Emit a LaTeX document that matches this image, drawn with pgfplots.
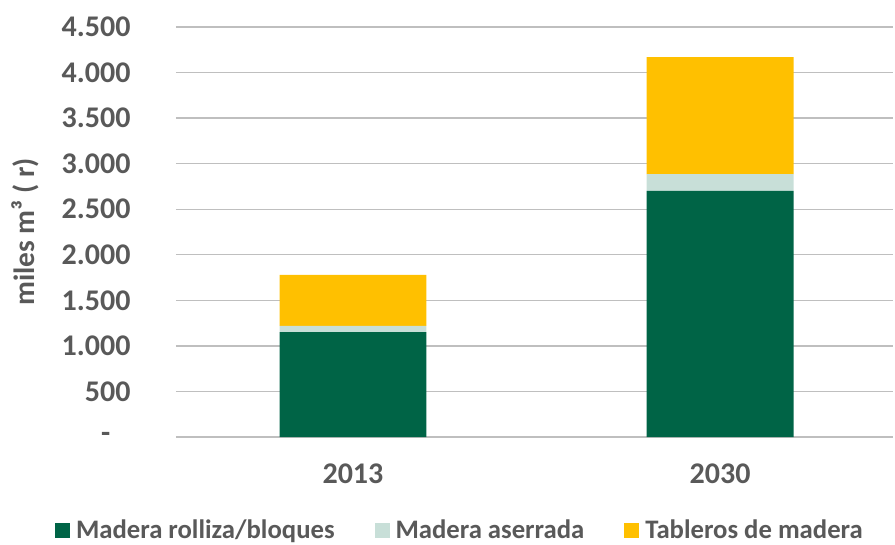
\documentclass[border=0pt]{standalone}
\usepackage{pgfplots}
\pgfplotsset{compat=1.18}
\usepackage{fontspec}
\setmainfont{Carlito}
\definecolor{dgreen}{RGB}{0,100,70}
\definecolor{lgreen}{RGB}{200,223,216}
\definecolor{gold}{RGB}{255,192,0}
\definecolor{tgray}{RGB}{89,89,89}
\definecolor{grid}{RGB}{217,217,217}
\newcommand\cf{\fontsize{30bp}{35bp}\selectfont\bfseries\color{tgray}}
\newcommand\lf{\fontsize{26.7bp}{32bp}\selectfont\bfseries\color{tgray}}
\newcommand\yf{\fontsize{29.4bp}{34bp}\selectfont\bfseries\color{tgray}}
\begin{document}
\begin{tikzpicture}
\useasboundingbox (-176bp,-108bp) rectangle (719bp,437bp);
\begin{axis}[
  scale only axis,
  width=717bp, height=410bp,
  ybar stacked,
  bar width=0.4,
  xmin=-0.482, xmax=1.471,
  ymin=0, ymax=4500,
  xtick={0,1}, xticklabels={2013,2030},
  ytick={0,500,1000,1500,2000,2500,3000,3500,4000,4500},
  yticklabels={\raisebox{-3bp}{-}\hphantom{0}\kern5bp,500,1.000,1.500,2.000,2.500,3.000,3.500,4.000,4.500},
  ymajorgrids, xmajorgrids=false, grid style={grid, line width=1.3bp},
  axis line style={draw=none},
  major tick length=0pt, tick style={draw=none},
  tick label style={font=\cf},
  yticklabel style={xshift=-42bp},
  xticklabel style={yshift=-23bp},
  every axis y label/.style={at={(axis description cs:0,0.5)},xshift=-151bp,anchor=center,rotate=90},
  ylabel={\yf miles m³ ( r)},
  legend columns=3,
  legend style={at={(0.396,-0.227)}, anchor=center, draw=none, font=\lf,
    /tikz/every odd column/.append style={column sep=4bp},
    /tikz/every even column/.append style={column sep=38bp}},
  legend image code/.code={\fill[#1,draw=none] (0bp,-7.5bp) rectangle (15bp,7.5bp);},
]
\addplot[fill=dgreen, draw=none] coordinates {(0,1150) (1,2700)};
\addplot[fill=lgreen, draw=none] coordinates {(0,70) (1,185)};
\addplot[fill=gold, draw=none] coordinates {(0,560) (1,1285)};
\legend{Madera rolliza/bloques, Madera aserrada, Tableros de madera}
\end{axis}
\end{tikzpicture}
\end{document}
